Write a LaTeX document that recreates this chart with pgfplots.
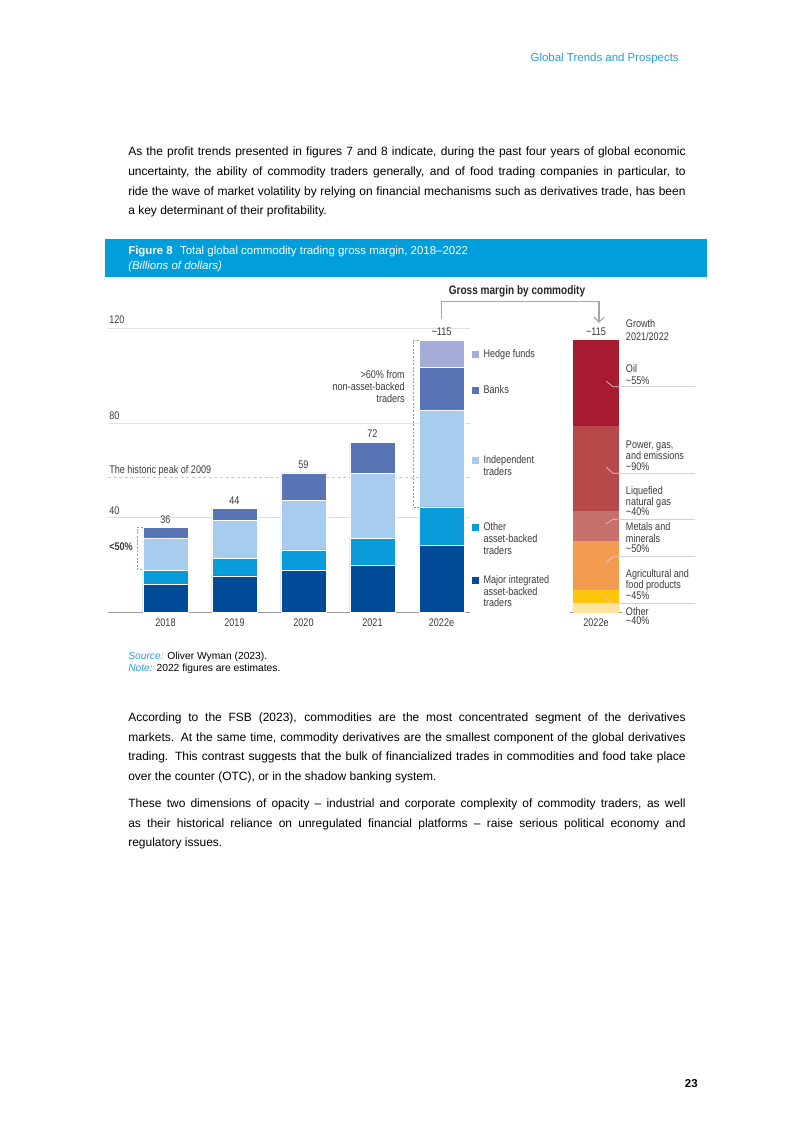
\documentclass[border=0pt]{standalone}
\usepackage{pgfplots}
\usepackage{pgfplotstable}
\pgfplotsset{compat=1.18}
\usepackage{fontspec}
\setmainfont{Liberation Sans}
\newfontfamily\cond[FakeStretch=0.82]{Liberation Sans}
\definecolor{cMajor}{HTML}{004A97}
\definecolor{cOther}{HTML}{0A9CDA}
\definecolor{cIndep}{HTML}{A8CCEE}
\definecolor{cBanks}{HTML}{5874B4}
\definecolor{cHedge}{HTML}{A3ADD7}
\definecolor{cOil}{HTML}{A61B2F}
\definecolor{cPower}{HTML}{B8494B}
\definecolor{cLNG}{HTML}{C6716C}
\definecolor{cMetal}{HTML}{F39C50}
\definecolor{cAgri}{HTML}{FFC40C}
\definecolor{cRest}{HTML}{FCE3A2}
\definecolor{cBanner}{HTML}{009EDB}
\definecolor{cBlue}{HTML}{2A9CD6}
\definecolor{cTxt}{HTML}{3A3A3A}
\definecolor{cGrid}{HTML}{E0E0E0}
\newcommand\body{\fontsize{9}{10}\selectfont}
\newcommand\cf{\cond\fontsize{8.3}{8.3}\selectfont}
\newcommand\jl[3]{\node[anchor=base west,inner sep=0pt] at (#1,#2) {\body\makebox[418pt][s]{#3}};}
\newcommand\pl[3]{\node[anchor=base west,inner sep=0pt] at (#1,#2) {\body #3};}
\newcommand\cl[3]{\node[anchor=base west,inner sep=0pt,text=cTxt] at (#1,#2) {\cf #3};}
\newcommand\crt[3]{\node[anchor=base east,inner sep=0pt,text=cTxt] at (#1,#2) {\cf #3};}
\newcommand\lsq[3]{\fill[#3] (472.3,#2-3.5) rectangle (479.3,#2+3.5);}

\pgfplotstableread{
x major other indep banks hedge
0 12   6    13.5 4.5  0
1 15.5 7.5  16   5    0
2 18   8.5  21   11.5 0
3 20   11.5 27.2 13.3 0
4 28.3 16.3 40.8 18.1 11.5
}\traders
\pgfplotstableread{
x rest agri metal lng power oil
0 4.0 5.6 20.7 12.5 36.0 36.2
}\commod

\begin{document}
\begin{tikzpicture}[x=0.75pt,y=-0.75pt]

% header
\node[anchor=base east,inner sep=0pt,text=cBlue] at (679,61) {\fontsize{8.6}{10}\selectfont Global Trends and Prospects};

% paragraph 1
\jl{128}{155.5}{As the profit trends presented in figures 7 and 8 indicate, during the past four years of global economic}
\jl{128}{175}{uncertainty, the ability of commodity traders generally, and of food trading companies in particular, to}
\jl{128}{195}{ride the wave of market volatility by relying on financial mechanisms such as derivatives trade, has been}
\pl{128}{214.5}{a key determinant of their profitability.}

% banner
\fill[cBanner] (105,239) rectangle (707,277);
\node[anchor=base west,inner sep=0pt,text=white] at (128,254) {\fontsize{8.6}{10}\selectfont\textbf{Figure 8}\hspace{3pt} Total global commodity trading gross margin, 2018–2022};
\node[anchor=base west,inner sep=0pt,text=white] at (128,269.5) {\fontsize{8.6}{10}\selectfont\itshape (Billions of dollars)};

% main chart
\begin{axis}[
  at={(81pt,-459.5pt)}, anchor=south west,
  scale only axis, width=271.5pt, height=213.3pt,
  xmin=-0.833, xmax=4.413, ymin=0, ymax=120,
  set layers,
  ybar stacked, bar width=33.75pt,
  axis line style={draw=none},
  major tick length=0pt,
  xtick={0,1,2,3,4}, xticklabels={2018,2019,2020,2021,2022e},
  xticklabel style={font=\cf, text=cTxt, anchor=base, yshift=-10.5pt},
  ytick={40,80,120}, yticklabels={,,},
  ymajorgrids, grid style={cGrid, line width=0.6pt},
  every axis plot/.append style={draw=white, line width=0.3pt},
  clip=false,
]
\addplot[fill=cMajor] table[x=x,y=major]{\traders};
\addplot[fill=cOther] table[x=x,y=other]{\traders};
\addplot[fill=cIndep] table[x=x,y=indep]{\traders};
\addplot[fill=cBanks] table[x=x,y=banks]{\traders};
\addplot[fill=cHedge] table[x=x,y=hedge]{\traders};
\draw[on layer=axis grid, cGrid!90!black, dash pattern=on 2.2pt off 2pt, line width=0.6pt] (axis cs:-0.833,57) -- (axis cs:4.413,57);
\draw[gray!80, line width=0.7pt] (axis cs:-0.833,0) -- (axis cs:4.413,0);
\node[anchor=base, text=cTxt, inner sep=0pt, yshift=3.2pt] at (axis cs:0,36) {\cf 36};
\node[anchor=base, text=cTxt, inner sep=0pt, yshift=3.2pt] at (axis cs:1,44) {\cf 44};
\node[anchor=base, text=cTxt, inner sep=0pt, yshift=3.2pt] at (axis cs:2,59) {\cf 59};
\node[anchor=base, text=cTxt, inner sep=0pt, yshift=3.2pt] at (axis cs:3,72) {\cf 72};
\node[anchor=base, text=cTxt, inner sep=0pt, yshift=3.2pt] at (axis cs:4,115) {\cf\textasciitilde 115};
\draw[gray!80, dash pattern=on 1.5pt off 1.2pt, line width=0.5pt] (axis cs:-0.326,36) -- (axis cs:-0.409,36) -- (axis cs:-0.409,18.3) -- (axis cs:-0.326,18.3);
\draw[gray!80, dash pattern=on 1.5pt off 1.2pt, line width=0.5pt] (axis cs:3.674,115) -- (axis cs:3.591,115) -- (axis cs:3.591,44.6) -- (axis cs:3.674,44.6);
\end{axis}

% commodity bar
\begin{axis}[
  at={(427.5pt,-459.5pt)}, anchor=south west,
  scale only axis, width=39pt, height=213.3pt,
  xmin=-0.5, xmax=0.5, ymin=0, ymax=120,
  ybar stacked, bar width=34.5pt,
  axis line style={draw=none},
  major tick length=0pt,
  xtick={0}, xticklabels={2022e},
  xticklabel style={font=\cf, text=cTxt, anchor=base, yshift=-10.5pt},
  ytick=\empty,
  every axis plot/.append style={draw=none},
  clip=false,
]
\addplot[fill=cRest] table[x=x,y=rest]{\commod};
\addplot[fill=cAgri] table[x=x,y=agri]{\commod};
\addplot[fill=cMetal] table[x=x,y=metal]{\commod};
\addplot[fill=cLNG] table[x=x,y=lng]{\commod};
\addplot[fill=cPower] table[x=x,y=power]{\commod};
\addplot[fill=cOil] table[x=x,y=oil]{\commod};
\draw[gray!80, line width=1.2pt] (axis cs:-0.5,0) -- (axis cs:0.5,0);
\node[anchor=base, text=cTxt, inner sep=0pt, yshift=3.2pt] at (axis cs:0,115) {\cf\textasciitilde 115};
\node[text=white, inner sep=0pt] at (axis cs:0,97.3) {\cf 32\%};
\node[text=white, inner sep=0pt] at (axis cs:0,61.6) {\cf 31\%};
\node[text=white, inner sep=0pt] at (axis cs:0,37) {\cf 11\%};
\node[text=white, inner sep=0pt] at (axis cs:0,19.8) {\cf 18\%};
\node[text=black!70, inner sep=0pt] at (axis cs:0,6.75) {\cf 5\%};
\node[text=black!55, inner sep=0pt] at (axis cs:0,2.1) {\cf 3\%};
\end{axis}

% y labels and notes
\cl{109}{323.3}{120}
\cl{109}{419}{80}
\cl{109}{514}{40}
\cl{109}{473.5}{The historic peak of 2009}
\node[anchor=base west,inner sep=0pt,text=cTxt] at (109,550) {\cf\bfseries <50\%};
\crt{405}{378.5}{>60\% from}
\crt{405}{390.8}{non-asset-backed}
\crt{405}{402.8}{traders}

% bracket
\node[anchor=base,inner sep=0pt,text=black!85] at (517,294) {\cond\fontsize{9.2}{10}\selectfont\bfseries Gross margin by commodity};
\draw[gray!70, line width=0.8pt] (441.7,319) -- (441.7,301.7) -- (599,301.7) -- (599,322);
\draw[gray!70, line width=0.8pt] (594,317) -- (599,322) -- (604,317);

% legend
\lsq{}{354}{cHedge}\cl{483.3}{357.5}{Hedge funds}
\lsq{}{390}{cBanks}\cl{483.3}{393.5}{Banks}
\lsq{}{460}{cIndep}\cl{483.3}{463.5}{Independent}
\cl{483.3}{475.8}{traders}
\lsq{}{527.3}{cOther}\cl{483.3}{530.8}{Other}
\cl{483.3}{542.5}{asset-backed}
\cl{483.3}{554.2}{traders}
\lsq{}{580}{cMajor}\cl{483.3}{583.5}{Major integrated}
\cl{483.3}{595.2}{asset-backed}
\cl{483.3}{606.8}{traders}

% commodity labels
\cl{625.7}{327.5}{Growth}
\cl{625.7}{340.2}{2021/2022}
\cl{625.7}{372.8}{Oil}
\cl{625.7}{384}{\textasciitilde 55\%}
\cl{625.7}{448.5}{Power, gas,}
\cl{625.7}{459.5}{and emissions}
\cl{625.7}{470.5}{\textasciitilde 90\%}
\cl{625.7}{494.5}{Liquefied}
\cl{625.7}{505.2}{natural gas}
\cl{625.7}{515.8}{\textasciitilde 40\%}
\cl{625.7}{530.8}{Metals and}
\cl{625.7}{542.2}{minerals}
\cl{625.7}{552.8}{\textasciitilde 50\%}
\cl{625.7}{577.8}{Agricultural and}
\cl{625.7}{588.8}{food products}
\cl{625.7}{599.8}{\textasciitilde 45\%}
\cl{625.7}{615.2}{Other}
\cl{625.7}{624.5}{\textasciitilde 40\%}

% leader lines
\foreach \ya/\yb in {381/386.7, 467/473.3, 524/519.3, 562.5/556.7, 598/603.3}{
  \draw[white!75!cOil, line width=0.5pt] (606,\ya) -- (613,\yb) -- (619,\yb);
  \draw[gray!35, line width=0.6pt] (619,\yb) -- (695,\yb);
}

% source
\node[anchor=base west,inner sep=0pt] at (128,659.5) {\fontsize{7.7}{9}\selectfont\textcolor{cBlue}{\itshape Source:} Oliver Wyman (2023).};
\node[anchor=base west,inner sep=0pt] at (128,671.5) {\fontsize{7.7}{9}\selectfont\textcolor{cBlue}{\itshape Note:} 2022 figures are estimates.};

% paragraph 2
\jl{128}{721.5}{According to the FSB (2023), commodities are the most concentrated segment of the derivatives}
\jl{128}{741.5}{markets. At the same time, commodity derivatives are the smallest component of the global derivatives}
\jl{128}{760.5}{trading. This contrast suggests that the bulk of financialized trades in commodities and food take place}
\pl{128}{780.5}{over the counter (OTC), or in the shadow banking system.}

% paragraph 3
\jl{128}{807.5}{These two dimensions of opacity – industrial and corporate complexity of commodity traders, as well}
\jl{128}{827.5}{as their historical reliance on unregulated financial platforms – raise serious political economy and}
\pl{128}{846.5}{regulatory issues.}

% page number
\node[anchor=base east,inner sep=0pt] at (698,1087) {\fontsize{8.6}{10}\selectfont\bfseries 23};

\pgfresetboundingbox
\path[use as bounding box] (0,0) rectangle (793,1122);
\end{tikzpicture}
\end{document}
